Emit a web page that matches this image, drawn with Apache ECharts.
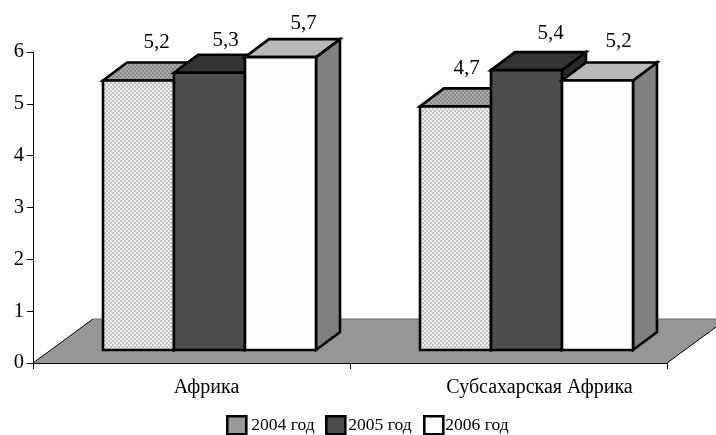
<!DOCTYPE html>
<html><head><meta charset="utf-8">
<style>html,body{margin:0;padding:0;background:#fff}#c{width:716px;height:435px}</style>
<script src="https://cdn.jsdelivr.net/npm/echarts@6/dist/echarts.min.js"></script></head>
<body><div id="c"></div>
<script>
const categories = ['Африка', 'Субсахарская Африка'];
const seriesNames = ['2004 год', '2005 год', '2006 год'];
const values2004 = [5.2, 4.7];
const values2005 = [5.35, 5.4];
const values2006 = [5.65, 5.2];
const labels2004 = ['5,2', '4,7'];
const labels2005 = ['5,3', '5,4'];
const labels2006 = ['5,7', '5,2'];
const yTicks = [0, 1, 2, 3, 4, 5, 6];

const FONT = '"Liberation Serif", serif';
const floorDX = 60, floorDY = 44, baseDX = 18, baseDY = 13, depthX = 24, depthY = 18, barW = 71;

function stipple(a, b) {
  const c = document.createElement('canvas'); c.width = c.height = 4;
  const x = c.getContext('2d');
  x.fillStyle = a; x.fillRect(0, 0, 4, 4);
  x.fillStyle = b; x.fillRect(0, 0, 2, 2); x.fillRect(2, 2, 2, 2);
  return { image: c, repeat: 'repeat' };
}
const styles = [
  { front: stipple('#eeeeee', '#c4c4c4'), top: stipple('#a8a8a8', '#8c8c8c'), side: '#808080', legend: '#999999' },
  { front: '#4d4d4d', top: '#333333', side: '#2b2b2b', legend: '#4d4d4d' },
  { front: '#fdfdfd', top: '#b9b9b9', side: '#808080', legend: '#ffffff' }
];
const labelShift = [
  [[18, -38], [11, -38]],
  [[16, -32], [24, -37]],
  [[23, -34], [21, -39]]
];

function floorSeries() {
  return {
    type: 'custom', silent: true, z: 1, clip: false, data: [0],
    renderItem(params) {
      const cs = params.coordSys;
      const l = cs.x, r = cs.x + cs.width, b = cs.y + cs.height;
      return { type: 'group', children: [
        { type: 'polygon', shape: { points: [[l, b], [r, b], [r + floorDX, b - floorDY], [l + floorDX, b - floorDY]] },
          style: { fill: '#969696', stroke: null } },
        { type: 'line', shape: { x1: l + floorDX, y1: b - floorDY, x2: r + floorDX, y2: b - floorDY }, style: { stroke: '#6a6a6a', lineWidth: 1 } },
        { type: 'line', shape: { x1: l, y1: b, x2: l + floorDX, y2: b - floorDY }, style: { stroke: '#000', lineWidth: 1 } },
        { type: 'line', shape: { x1: r, y1: b, x2: r + floorDX, y2: b - floorDY }, style: { stroke: '#000', lineWidth: 1 } }
      ] };
    }
  };
}

function barSeries(name, vals, labels, si) {
  const st = styles[si];
  return {
    type: 'custom', name, z: 2 + si, clip: false,
    itemStyle: { color: st.legend },
    data: vals.map((v, i) => [i, v, labels[i], i]),
    encode: { x: 0, y: 1 },
    renderItem(params, api) {
      const c = api.value(3);
      const top = api.coord([c, api.value(1)]);
      const base = api.coord([c, 0]);
      const cx = top[0] + baseDX + (si - 1) * barW;
      const x0 = cx - barW / 2, x1 = cx + barW / 2;
      const yT = top[1] - baseDY, yB = base[1] - baseDY;
      const line = { stroke: '#000', lineWidth: 2.6, lineJoin: 'miter' };
      const sh = labelShift[si][c];
      return { type: 'group', children: [
        { type: 'polygon', shape: { points: [[x1, yT], [x1 + depthX, yT - depthY], [x1 + depthX, yB - depthY], [x1, yB]] },
          style: Object.assign({ fill: st.side }, line) },
        { type: 'polygon', shape: { points: [[x0, yT], [x0 + depthX, yT - depthY], [x1 + depthX, yT - depthY], [x1, yT]] },
          style: Object.assign({ fill: st.top }, line) },
        { type: 'rect', shape: { x: x0, y: yT, width: barW, height: yB - yT },
          style: Object.assign({ fill: st.front }, line) },
        { type: 'text', x: cx + sh[0], y: yT + sh[1],
          style: { text: api.value(2), fill: '#000', font: '21px ' + FONT, align: 'center', verticalAlign: 'middle' } }
      ] };
    }
  };
}

const legendXs = [226, 325, 423];
const chart = echarts.init(document.getElementById('c'), null, { renderer: 'canvas' });
chart.setOption({
  animation: false,
  backgroundColor: '#fff',
  textStyle: { fontFamily: FONT },
  grid: { left: 33, right: 49, top: 52, bottom: 72, containLabel: false },
  legend: seriesNames.map((n, i) => ({
    data: [n], left: legendXs[i], top: 415, padding: 0, itemWidth: 19, itemHeight: 18, itemGap: 0,
    selectedMode: false, icon: 'rect',
    itemStyle: { borderColor: '#000', borderWidth: 2.6 },
    textStyle: { fontFamily: FONT, fontSize: 17.5, color: '#000', padding: [5, 0, 0, i === 2 ? -3 : (i === 1 ? -2 : 0)] }
  })),
  xAxis: {
    type: 'category', data: categories, boundaryGap: true,
    axisLine: { show: true, lineStyle: { color: '#000', width: 1 } },
    axisTick: { show: true, length: 6, lineStyle: { color: '#000' } },
    axisLabel: {
      color: '#000', fontSize: 20, fontFamily: FONT, margin: 15,
      formatter: (v, i) => `{c${i}|${v}}`,
      rich: {
        c0: { fontSize: 20, fontFamily: FONT, padding: [0, 0, 0, 30] },
        c1: { fontSize: 20, fontFamily: FONT, padding: [0, 0, 0, 62] }
      }
    },
    splitLine: { show: false }, z: 10
  },
  yAxis: {
    type: 'value', min: 0, max: 6, interval: 1,
    axisLine: { show: true, lineStyle: { color: '#000', width: 1 } },
    axisTick: { show: true, length: 6, lineStyle: { color: '#000' } },
    axisLabel: { color: '#000', fontSize: 20.5, fontFamily: FONT, margin: 9, padding: [3, 0, 0, 0], formatter: v => yTicks.includes(v) ? String(v) : '' },
    splitLine: { show: false }, z: 10
  },
  series: [floorSeries(),
    barSeries(seriesNames[0], values2004, labels2004, 0),
    barSeries(seriesNames[1], values2005, labels2005, 1),
    barSeries(seriesNames[2], values2006, labels2006, 2)]
});
</script></body></html>
